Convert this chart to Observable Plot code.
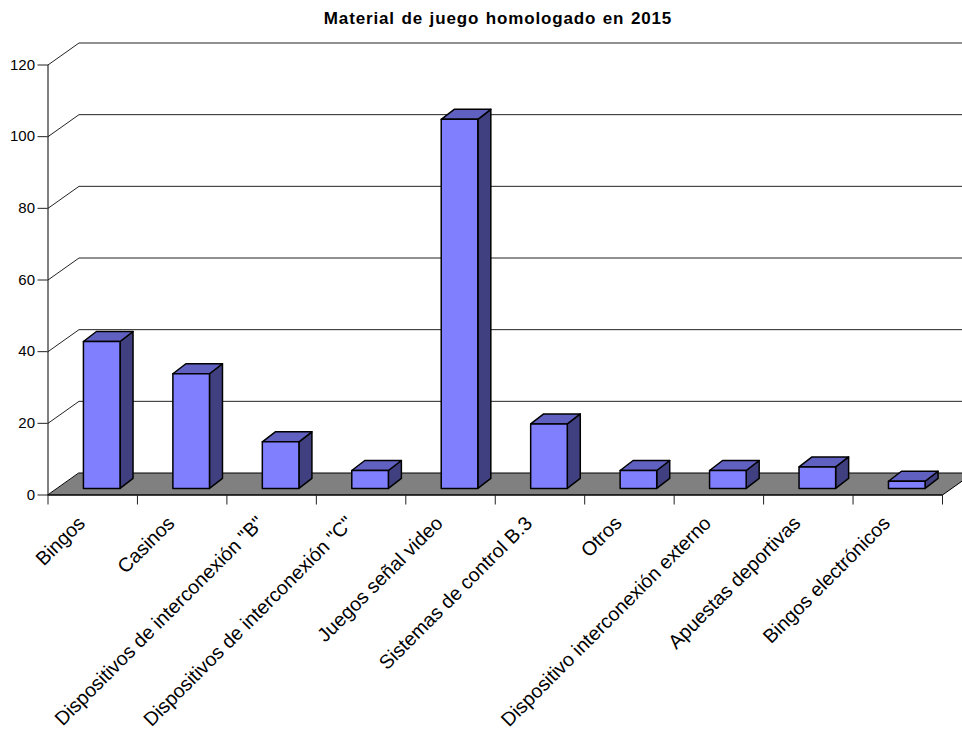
<!DOCTYPE html>
<html><head><meta charset="utf-8">
<style>
html,body{margin:0;padding:0;background:#fff;overflow:hidden}
#title{height:30px;box-sizing:border-box;padding-top:10px;font:bold 17px "Liberation Sans",Arial,sans-serif;line-height:18px;color:#000;text-align:center;width:996px;letter-spacing:.85px;word-spacing:1px;white-space:nowrap}
svg{display:block}
</style>
<script src="https://cdn.jsdelivr.net/npm/d3@7"></script>
<script src="https://cdn.jsdelivr.net/npm/@observablehq/plot@0.6"></script>
</head><body>
<div id="title">Material de juego homologado en 2015</div>
<div id="chart"></div>
<script>
const categories = ["Bingos","Casinos","Dispositivos de interconexión \"B\"","Dispositivos de interconexión \"C\"","Juegos señal video","Sistemas de control B.3","Otros","Dispositivo interconexión externo","Apuestas deportivas","Bingos electrónicos"];
const values = [41,32,13,5,103,18,5,5,6,2];
const gridValues = [0,20,40,60,80,100,120];

const font = '"Liberation Sans",Arial,sans-serif';
// plot scale factors (pixels per data unit), used to express the 3D depth in data units
const width = 962, height = 701, ml = 47.5, mr = 20, mt = 34.5, mb = 236.5;
const kx = (width-ml-mr)/categories.length, ky = (height-mt-mb)/120;
const wallX = 31/kx, wallY = 22/ky;       // wall offset
const baseX = 9/kx, baseY = 6.6/ky;       // bar base offset into the floor
const depX = 13/kx, depY = 10/ky;         // bar depth
const halfW = 18.3/kx;                    // half bar width

const poly = (rows) => rows.flatMap((pts,i)=>pts.map(([x,y])=>({id:i,x,y})));
const boxes = values.map((v,i)=>{
  const c = i+.5+baseX, l=c-halfW, r=c+halfW, b=baseY, t=baseY+v;
  return {
    front:[[l,b],[r,b],[r,t],[l,t]],
    side:[[r,b],[r+depX,b+depY],[r+depX,t+depY],[r,t]],
    top:[[l,t],[r,t],[r+depX,t+depY],[l+depX,t+depY]]
  };
});
const lineOpts = {x:"x",y:"y",z:"id",curve:"linear-closed",stroke:"#000",strokeWidth:1.5};
const gridLines = gridValues.filter(v=>v>0).flatMap(v=>[
  {id:v,x:0,y:v},{id:v,x:wallX,y:v+wallY},{id:v,x:10+wallX,y:v+wallY}
]);
const floor = [[0,0],[10,0],[10+wallX,wallY],[wallX,wallY]];

const plot = Plot.plot({
  width,height,marginLeft:ml,marginRight:mr,marginTop:mt,marginBottom:mb,
  style:{fontFamily:font,fontSize:"15px",color:"#000",background:"#fff"},
  x:{type:"linear",domain:[0,categories.length],axis:null},
  y:{type:"linear",domain:[0,120],axis:null},
  marks:[
    Plot.line(gridLines,{x:"x",y:"y",z:"id",stroke:"#222",strokeWidth:1}),
    Plot.line(poly([floor]),{...lineOpts,fill:"#808080",strokeWidth:1}),
    Plot.ruleX([0],{y1:0,y2:120,stroke:"#000",strokeWidth:1}),
    Plot.ruleY([0],{x1:0,x2:10,stroke:"#000",strokeWidth:1.2}),
    Plot.axisY(gridValues,{anchor:"left",tickSize:10,tickPadding:3,label:null,fontSize:15,tickFormat:d=>String(d),stroke:"#222"}),
    Plot.axisX(d3.range(0,categories.length+1),{anchor:"bottom",tickSize:10,label:null,tickFormat:()=>"",stroke:"#222"}),
    Plot.line(poly(boxes.map(b=>b.side)),{...lineOpts,fill:"#404080"}),
    Plot.line(poly(boxes.map(b=>b.top)),{...lineOpts,fill:"#6060C0"}),
    Plot.line(poly(boxes.map(b=>b.front)),{...lineOpts,fill:"#8080FF"}),
    Plot.text(categories,{x:(d,i)=>i+.5,y:()=>0,text:d=>d,rotate:-45,textAnchor:"end",lineAnchor:"middle",dx:-11,dy:25,fontSize:19.6,fill:"#000"})
  ]
});
document.getElementById("chart").append(plot);
</script>
</body></html>
